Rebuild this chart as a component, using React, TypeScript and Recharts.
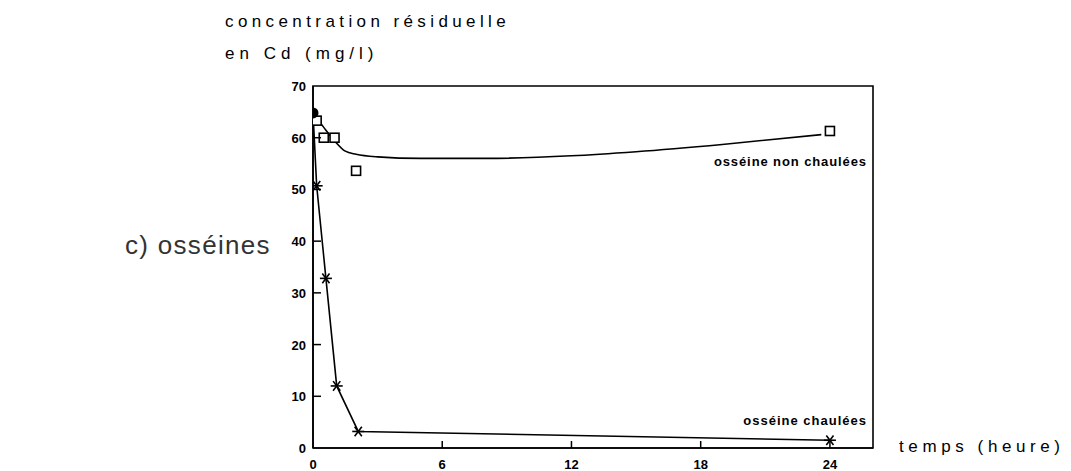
import {
  ComposedChart,
  Line,
  Scatter,
  XAxis,
  YAxis,
  ReferenceArea,
} from "recharts"

// hours
const timeTicks = [0, 6, 12, 18, 24]
const concTicks = [0, 10, 20, 30, 40, 50, 60, 70]

// osséine non chaulées: measured points (squares)
const nonChauleesTime = [0.17, 0.5, 1, 2, 24]
const nonChauleesConc = [63.3, 60, 60, 53.6, 61.3]

// fitted curve drawn through the non chaulées points
const fitTime = [0, 0.5, 1, 1.5, 2, 3, 5, 8, 12, 15, 19, 23.6]
const fitConc = [64.8, 62, 59.4, 57.4, 56.8, 56.3, 56, 56, 56.5, 57.3, 58.7, 60.6]

// osséine chaulées: measured points (asterisks)
const chauleesTime = [0, 0.17, 0.6, 1.1, 2.1, 24]
const chauleesConc = [64.8, 50.7, 32.8, 12, 3.2, 1.5]

const fitData = fitTime.map((t, i) => ({ t, c: fitConc[i] }))
const squareData = nonChauleesTime.map((t, i) => ({ t, c: nonChauleesConc[i] }))
const starData = chauleesTime.map((t, i) => ({ t, c: chauleesConc[i] }))

const labelFont = "'Liberation Sans', Arial, sans-serif"

function SquareMark(props: any) {
  const { cx, cy } = props
  return (
    <rect x={cx - 4.5} y={cy - 4.5} width={9} height={9} fill="#fff" stroke="#000" strokeWidth={1.6} />
  )
}

function StarMark(props: any) {
  const { cx, cy, index } = props
  if (index === 0) {
    return <circle cx={cx} cy={cy} r={5.5} fill="#000" />
  }
  const r = 6
  return (
    <g stroke="#000" strokeWidth={1.6}>
      <line x1={cx - r} y1={cy} x2={cx + r} y2={cy} />
      <line x1={cx - r * 0.6} y1={cy - r * 0.8} x2={cx + r * 0.6} y2={cy + r * 0.8} />
      <line x1={cx + r * 0.6} y1={cy - r * 0.8} x2={cx - r * 0.6} y2={cy + r * 0.8} />
    </g>
  )
}

function XTick(props: any) {
  const { x, y, payload } = props
  return (
    <g>
      {payload.value !== 0 && <line x1={x} y1={y} x2={x} y2={y - 7} stroke="#000" strokeWidth={1.5} />}
      <text x={x} y={y + 21} textAnchor="middle" fontSize={13} fontWeight="bold" fontFamily={labelFont} fill="#000">
        {payload.value}
      </text>
    </g>
  )
}

function YTick(props: any) {
  const { x, y, payload } = props
  return (
    <g>
      {payload.value !== 0 && payload.value !== 70 && (
        <line x1={x} y1={y} x2={x + 8} y2={y} stroke="#000" strokeWidth={1.5} />
      )}
      <text x={x - 7} y={y + 5} textAnchor="end" fontSize={13} fontWeight="bold" fontFamily={labelFont} fill="#000">
        {payload.value}
      </text>
    </g>
  )
}

const textStyle: React.CSSProperties = {
  position: "absolute",
  fontFamily: labelFont,
  color: "#000",
  whiteSpace: "nowrap",
  lineHeight: 1,
}

export default function App() {
  return (
    <div style={{ position: "absolute", left: 0, top: 0, width: 1071, height: 471, background: "#fff", overflow: "hidden" }}>
      <div style={{ ...textStyle, left: 225, top: 13, fontSize: 17, letterSpacing: 4.4 }}>
        concentration résiduelle
      </div>
      <div style={{ ...textStyle, left: 225, top: 45, fontSize: 17, letterSpacing: 5 }}>
        en Cd (mg/l)
      </div>
      <div style={{ ...textStyle, left: 125, top: 232, fontSize: 26, letterSpacing: 1.3, color: "#333" }}>
        c) osséines
      </div>
      <div style={{ ...textStyle, left: 899, top: 438, fontSize: 17, letterSpacing: 4.6 }}>
        temps (heure)
      </div>
      <div style={{ ...textStyle, right: 1071 - 867, top: 155, fontSize: 13, fontWeight: "bold", letterSpacing: 0.9 }}>
        osséine non chaulées
      </div>
      <div style={{ ...textStyle, right: 1071 - 867, top: 414, fontSize: 13, fontWeight: "bold", letterSpacing: 1 }}>
        osséine chaulées
      </div>
      <ComposedChart
        width={1071}
        height={471}
        margin={{ top: 86, right: 198, bottom: 3, left: 273 }}
      >
        <XAxis
          dataKey="t"
          type="number"
          domain={[0, 26]}
          ticks={timeTicks}
          allowDataOverflow
          height={20}
          tickSize={0}
          tickMargin={0}
          tickLine={false}
          tick={<XTick />}
          axisLine={{ stroke: "#000", strokeWidth: 1.6 }}
        />
        <YAxis
          dataKey="c"
          type="number"
          domain={[0, 70]}
          ticks={concTicks}
          width={40}
          tickSize={0}
          tickMargin={0}
          tickLine={false}
          tick={<YTick />}
          axisLine={{ stroke: "#000", strokeWidth: 1.6 }}
        />
        <ReferenceArea x1={0} x2={26} y1={0} y2={70} fill="none" stroke="#000" strokeWidth={1.6} ifOverflow="visible" />
        <Line
          data={fitData}
          dataKey="c"
          type="monotone"
          stroke="#000"
          strokeWidth={1.6}
          dot={false}
          isAnimationActive={false}
        />
        <Line
          data={starData}
          dataKey="c"
          type="linear"
          stroke="#000"
          strokeWidth={1.6}
          dot={false}
          isAnimationActive={false}
        />
        <Scatter data={squareData} dataKey="c" shape={<SquareMark />} isAnimationActive={false} />
        <Scatter data={starData} dataKey="c" shape={<StarMark />} isAnimationActive={false} />
      </ComposedChart>
    </div>
  )
}
